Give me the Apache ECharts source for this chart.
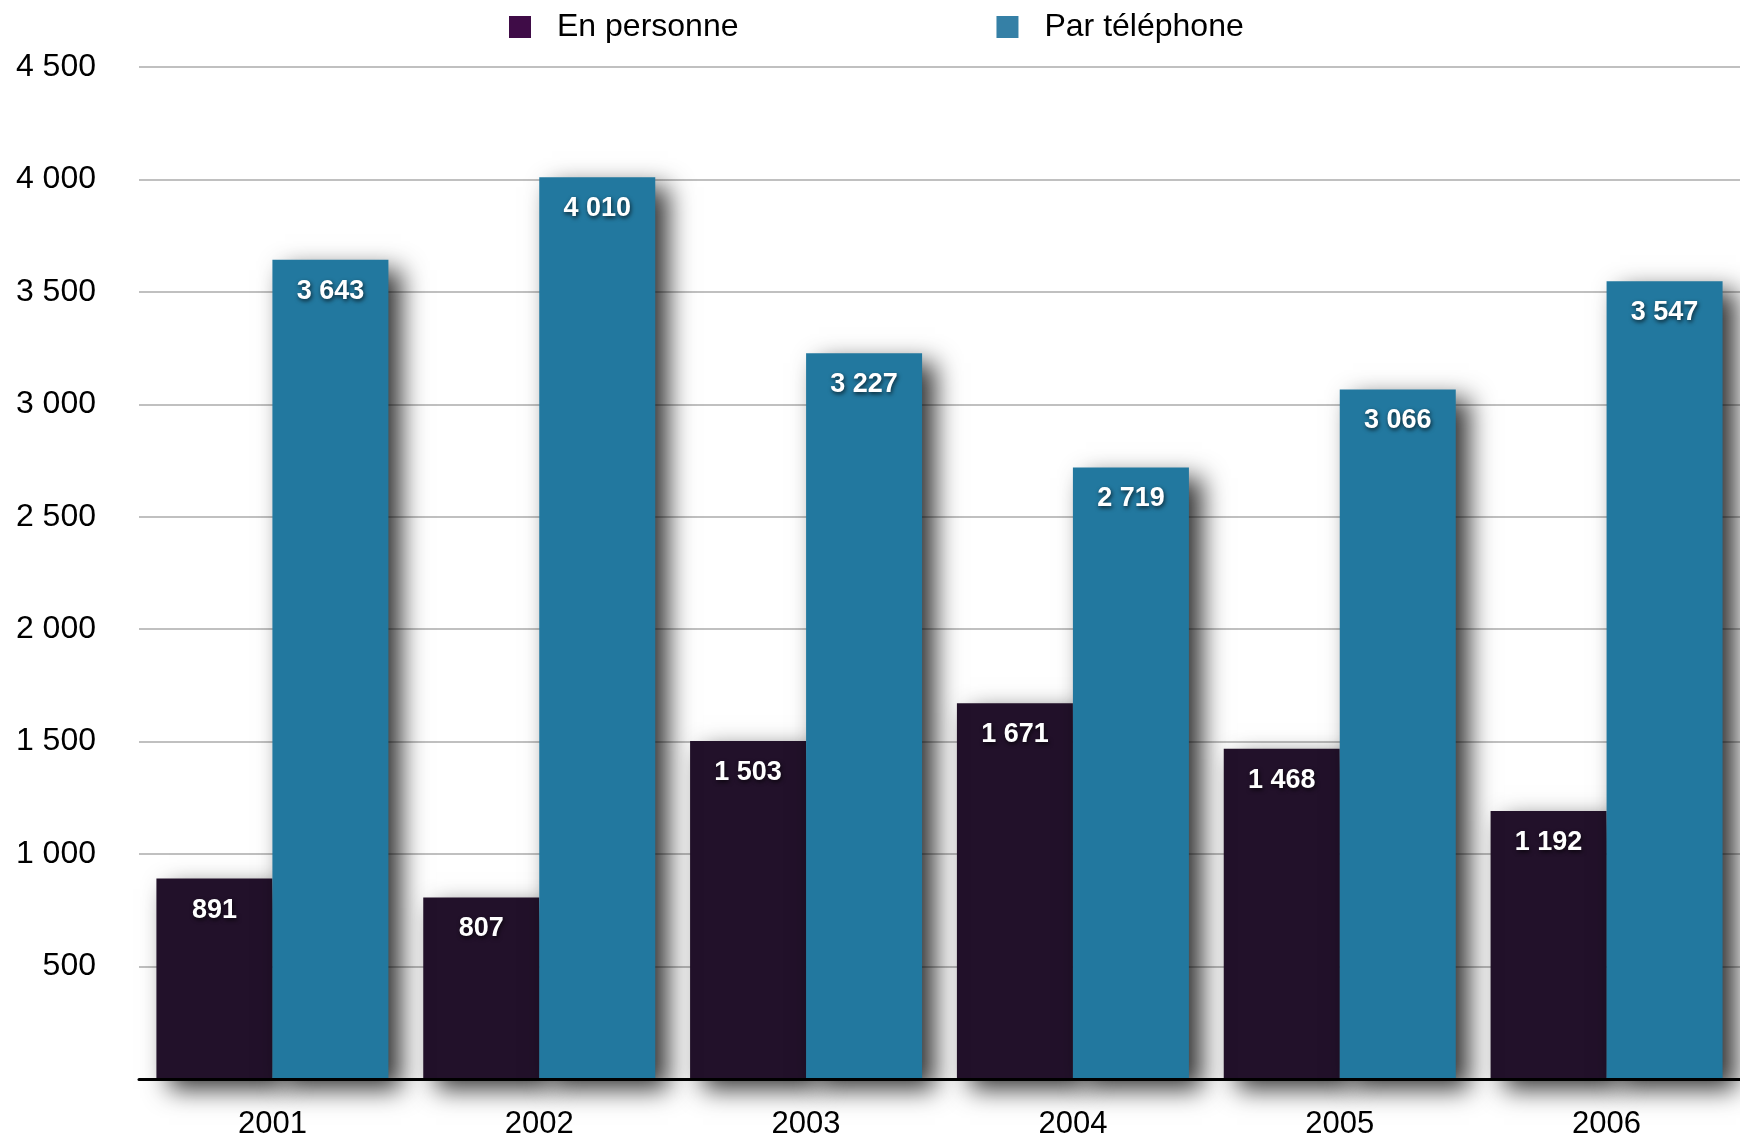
<!DOCTYPE html>
<html>
<head>
<meta charset="utf-8">
<script src="https://cdn.jsdelivr.net/npm/echarts@6/dist/echarts.min.js"></script>
<style>
html,body{margin:0;padding:0;background:#fff;}
#chart{width:1740px;height:1143px;}
</style>
</head>
<body>
<div id="chart"></div>
<script>
var categories = ['2001', '2002', '2003', '2004', '2005', '2006'];
var enPersonne = [891, 807, 1503, 1671, 1468, 1192];
var parTelephone = [3643, 4010, 3227, 2719, 3066, 3547];
var seriesNames = ['En personne', 'Par téléphone'];

function fmt(v) {
  return String(v).replace(/\B(?=(\d{3})+(?!\d))/g, ' ');
}

var FONT = '"Liberation Sans", Arial, Helvetica, sans-serif';

var chart = echarts.init(document.getElementById('chart'), null, {renderer: 'canvas'});

var labelCfg = {
  show: true,
  position: 'insideTop',
  distance: 18,
  color: '#ffffff',
  fontFamily: FONT,
  fontWeight: 'bold',
  fontSize: 27,
  textShadowColor: 'rgba(0,0,0,0.7)',
  textShadowBlur: 4,
  textShadowOffsetX: 1,
  textShadowOffsetY: 2,
  formatter: function (p) { return fmt(p.value); }
};

var shadowStyle = {
  shadowColor: 'rgba(0,0,0,0.8)',
  shadowBlur: 24,
  shadowOffsetX: 13,
  shadowOffsetY: 10
};

chart.setOption({
  animation: false,
  backgroundColor: '#ffffff',
  textStyle: {fontFamily: FONT},
  legend: {
    left: 504,
    top: 6,
    icon: 'rect',
    itemWidth: 22,
    itemHeight: 22,
    itemGap: 258,
    textStyle: {fontFamily: FONT, fontSize: 32, color: '#000', padding: [0, 0, 0, 21]},
    data: [
      {name: seriesNames[0], itemStyle: {color: '#3f0c47'}},
      {name: seriesNames[1], itemStyle: {color: '#3580a6'}}
    ]
  },
  grid: {left: 139, right: 0, top: 67, bottom: 64, containLabel: false},
  xAxis: {
    type: 'category',
    data: categories,
    axisLine: {show: true, lineStyle: {color: '#000', width: 3}},
    axisTick: {show: false},
    axisLabel: {fontFamily: FONT, fontSize: 31, color: '#000', margin: 30},
    z: 10
  },
  yAxis: {
    type: 'value',
    min: 0,
    max: 4500,
    interval: 500,
    axisLine: {show: false},
    axisTick: {show: false},
    splitLine: {show: true, lineStyle: {color: '#c0c0c0', width: 2}},
    axisLabel: {
      fontFamily: FONT, fontSize: 32, color: '#000', margin: 43,
      padding: [5, 0, 0, 0],
      formatter: function (v) { return v === 0 ? '' : fmt(v); }
    }
  },
  series: [
    {
      name: seriesNames[0],
      type: 'bar',
      data: enPersonne,
      barWidth: 116,
      barGap: '0%',
      itemStyle: Object.assign({color: '#22112a'}, shadowStyle),
      label: labelCfg
    },
    {
      name: seriesNames[1],
      type: 'bar',
      data: parTelephone,
      barWidth: 116,
      barGap: '0%',
      itemStyle: Object.assign({color: '#22789f'}, shadowStyle),
      label: labelCfg
    }
  ]
});
</script>
</body>
</html>
